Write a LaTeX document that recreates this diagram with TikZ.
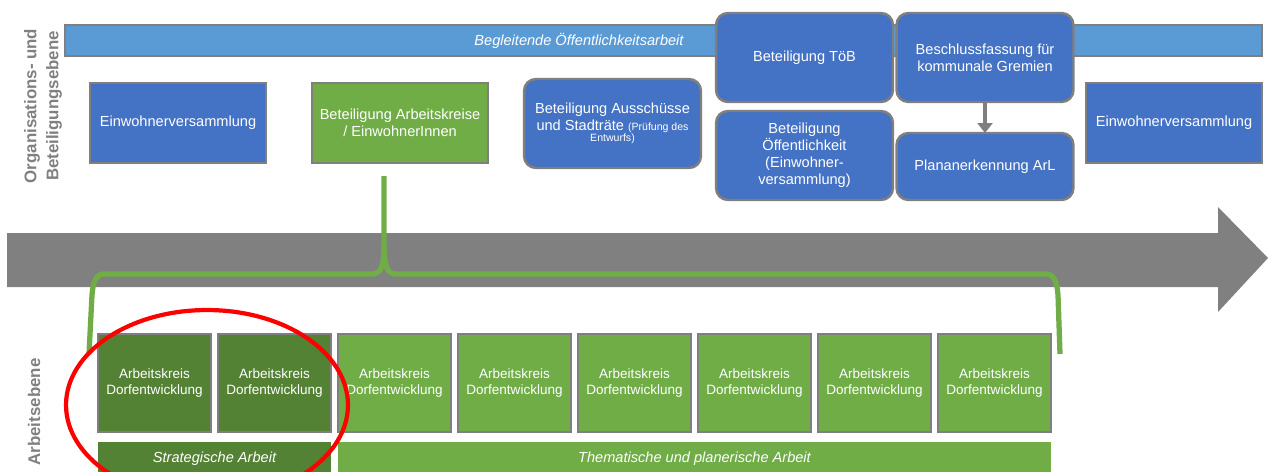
\documentclass[tikz,border=0pt]{standalone}
\usepackage{fontspec}
\setmainfont{Liberation Sans}
\usetikzlibrary{calc,arrows.meta}

\definecolor{barblue}{HTML}{5B9BD5}
\definecolor{boxblue}{HTML}{4472C4}
\definecolor{akgreen}{HTML}{70AD47}
\definecolor{akdark}{HTML}{548235}
\definecolor{framegray}{HTML}{7F7F7F}
\definecolor{timegray}{HTML}{808080}

\newcommand{\boxfont}{\fontsize{8.3}{9.6}\selectfont}
\newcommand{\akfont}{\fontsize{7.7}{9.6}\selectfont}
\newcommand{\tinyfont}{\fontsize{6}{7.5}\selectfont}

\begin{document}
\begin{tikzpicture}[x=0.02cm,y=-0.02cm,every node/.style={outer sep=0pt}]
\tikzstyle{frame}=[draw=framegray,line width=1.4pt,text=white,align=center,inner sep=1pt]
\tikzstyle{plainbox}=[frame,fill=boxblue,minimum width=3.52cm,minimum height=1.6cm,font=\boxfont]
\tikzstyle{roundbox}=[frame,fill=boxblue,rounded corners=0.24cm,minimum width=3.54cm,minimum height=1.78cm,font=\boxfont]
\tikzstyle{akbox}=[frame,fill=akgreen,minimum width=2.26cm,minimum height=1.96cm,font=\akfont]
\tikzstyle{phase}=[fill=akgreen,text=white,minimum height=0.68cm,font=\boxfont\itshape,inner sep=0pt]
\tikzstyle{levellabel}=[rotate=90,text=timegray,font=\fontsize{9.6}{11}\selectfont\bfseries]

\useasboundingbox (0,0) rectangle (1268,471);

% Zeitachse
\fill [timegray] (7,233) -- (1218,233) -- (1218,207) -- (1268,258) -- (1218,312) -- (1218,287) -- (7,287) -- cycle;

% Ebenen
\node (orglabel) [levellabel] at (32,106) {Organisations- und};
\node (betlabel) [levellabel] at (54,106) {Beteiligungsebene};
\node (arblabel) [levellabel] at (34,412) {Arbeitsebene};

% Organisations- und Beteiligungsebene
\node (pr) [frame,fill=barblue,minimum width=23.94cm,minimum height=0.62cm,font=\boxfont\itshape] at (663.5,40.5) {};
\node (prtext) [text=white,font=\boxfont\itshape] at (579,41) {Begleitende Öffentlichkeitsarbeit};

\node (ew1) [plainbox] at (178,123) {Einwohnerversammlung};
\node (bak) [plainbox,fill=akgreen] at (400,123) {Beteiligung Arbeitskreise\\/ EinwohnerInnen};
\node (aus) [roundbox] at (612.5,123.5) {Beteiligung Ausschüsse\\und Stadträte {\tinyfont(Prüfung des}\\[-3pt]{\tinyfont Entwurfs)}};
\node (toeb) [roundbox] at (804.5,57.5) {Beteiligung TöB};
\node (oeff) [roundbox] at (804.5,155.5) {Beteiligung\\Öffentlichkeit\\(Einwohner-\\versammlung)};
\node (bes) [roundbox] at (985,57.5) {Beschlussfassung für\\kommunale Gremien};
\node (plan) [roundbox,minimum height=1.34cm] at (985,166.5) {Plananerkennung ArL};
\node (ew2) [plainbox] at (1174,123) {Einwohnerversammlung};

\draw [framegray,line width=2.3pt,-{Triangle[width=0.3cm,length=0.2cm]}] (bes) -- (plan);

% Arbeitsebene
\foreach \i in {0,...,7} {
  \node (ak\i) [akbox] at (154.5+120*\i,383) {Arbeitskreis\\Dorfentwicklung};
}
\node [akbox,fill=akdark] at (ak0) {Arbeitskreis\\Dorfentwicklung};
\node [akbox,fill=akdark] at (ak1) {Arbeitskreis\\Dorfentwicklung};

\node (strat) [phase,fill=akdark,minimum width=4.66cm] at (214.5,459) {Strategische Arbeit};
\node (them) [phase,minimum width=14.26cm] at (694.5,459) {Thematische und planerische Arbeit};

% Klammer
\coordinate (brtop) at (384,176);
\coordinate (brleft) at (89,354);
\coordinate (brright) at (1060,354);
\draw [akgreen,line width=3pt] (brtop) -- (384,245) .. controls (384,268) and (380,274) .. (372,274) -- (104,274) .. controls (96,274) and (93,282) .. (92,295) -- (brleft);
\draw [akgreen,line width=3pt] (384,245) .. controls (384,268) and (388,274) .. (396,274) -- (1046,274) .. controls (1054,274) and (1057,282) .. (1058,295) -- (brright);

% Markierung
\draw [red,line width=2.4pt] (207,405) ellipse [x radius=2.82cm,y radius=1.9cm];
\end{tikzpicture}
\end{document}
